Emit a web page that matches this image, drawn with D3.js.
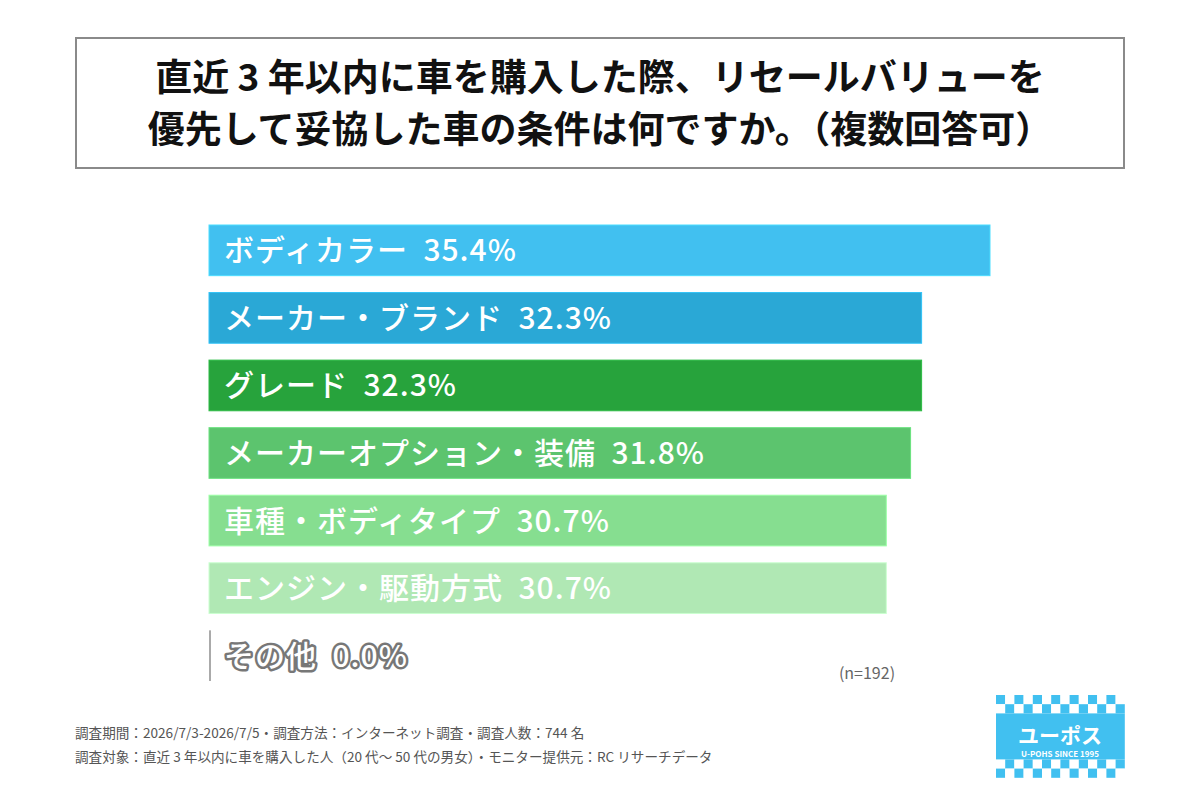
<!DOCTYPE html>
<html>
<head>
<meta charset="utf-8">
<script src="https://cdn.jsdelivr.net/npm/d3@7"></script>
<style>
  body { margin: 0; background: #fff; }
  svg { display: block; font-family: "Noto Sans CJK JP", "Noto Sans", sans-serif; }
  text { white-space: pre; }
</style>
</head>
<body>
<svg id="chart"></svg>
<script>
const categories = ['ボディカラー', 'メーカー・ブランド', 'グレード', 'メーカーオプション・装備', '車種・ボディタイプ', 'エンジン・駆動方式', 'その他']
const values = [35.4, 32.3, 32.3, 31.8, 30.7, 30.7, 0.0]
const barColors = ['#41c0f0', '#2aa8d6', '#27a33c', '#5cc46e', '#86de90', '#b0e8b4', '#aaaaaa']
const titleLines = ['直近 3 年以内に車を購入した際、リセールバリューを', '優先して妥協した車の条件は何ですか。（複数回答可）']
const notes = [
    '調査期間：2026/7/3-2026/7/5・調査方法：インターネット調査・調査人数：744 名',
    '調査対象：直近 3 年以内に車を購入した人（20 代～ 50 代の男女）・モニター提供元：RC リサーチデータ'
]
const sampleNote = '(n=192)'

let width = 1200
let height = 800
let svg = d3.select('#chart')
    .attr('width', width)
    .attr('height', height)

// Title box
svg.append('rect')
    .attr('x', 76).attr('y', 38)
    .attr('width', 1048).attr('height', 130)
    .attr('fill', '#fff')
    .attr('stroke', '#8a8a8a')
    .attr('stroke-width', 2)

svg.selectAll('.title')
    .data(titleLines)
    .enter()
    .append('text')
    .attr('class', 'title')
    .attr('x', 600)
    .attr('y', (d, i) => 91 + i * 52)
    .attr('text-anchor', 'middle')
    .attr('font-size', 37)
    .attr('font-weight', 700)
    .attr('fill', '#111')
    .text(d => d)

// Scales
let xScale = d3.scaleLinear()
    .domain([0, 35.4])
    .range([209, 990])

let yScale = d3.scaleBand()
    .domain(categories)
    .range([225, 681])
    .paddingInner(0.25)
    .paddingOuter(0)

// Bars
let bars = svg.selectAll('.bar')
    .data(categories)
    .enter()
    .append('g')
    .attr('class', 'bar')

bars.append('rect')
    .attr('x', xScale(0))
    .attr('y', d => yScale(d))
    .attr('width', (d, i) => Math.max(2, xScale(values[i]) - xScale(0)))
    .attr('height', yScale.bandwidth())
    .attr('fill', (d, i) => barColors[i])
    .attr('stroke', (d, i) => values[i] > 0 ? d3.color(barColors[i]).brighter(0.4) : 'none')
    .attr('stroke-width', 1)

bars.append('text')
    .attr('x', xScale(0) + 15)
    .attr('y', d => yScale(d) + yScale.bandwidth() / 2 + 11)
    .attr('font-size', 30)
    .attr('font-weight', 500)
    .attr('letter-spacing', 1)
    .attr('fill', '#fff')
    .attr('stroke', (d, i) => values[i] > 0 ? 'none' : '#777')
    .attr('stroke-width', 5)
    .attr('stroke-linejoin', 'round')
    .attr('paint-order', 'stroke')
    .text((d, i) => d + '  ' + values[i].toFixed(1) + '%')

// n note
svg.append('text')
    .attr('x', 867)
    .attr('y', 679)
    .attr('text-anchor', 'middle')
    .attr('font-size', 16)
    .attr('fill', '#666')
    .text(sampleNote)

// Footnotes
svg.selectAll('.note')
    .data(notes)
    .enter()
    .append('text')
    .attr('class', 'note')
    .attr('x', 75)
    .attr('y', (d, i) => 738 + i * 24)
    .attr('font-size', 13.6)
    .attr('fill', '#555')
    .text(d => d)

// Logo
let logo = svg.append('g').attr('transform', 'translate(996,695)')
let cell = 9.2
let cols = d3.range(14)
let rows = [0, 1, 7, 8]
rows.forEach(r => {
    logo.selectAll('.c' + r)
        .data(cols)
        .enter()
        .append('rect')
        .attr('x', c => c * cell)
        .attr('y', r * cell)
        .attr('width', cell)
        .attr('height', cell)
        .attr('fill', c => (c + r) % 2 === 0 ? '#41c0f0' : '#fff')
})
logo.append('rect')
    .attr('x', 0).attr('y', 2 * cell)
    .attr('width', 14 * cell).attr('height', 5 * cell)
    .attr('fill', '#41c0f0')
logo.append('text')
    .attr('x', 64).attr('y', 48)
    .attr('text-anchor', 'middle')
    .attr('font-size', 21)
    .attr('font-weight', 700)
    .attr('fill', '#fff')
    .text('ユーポス')
logo.append('text')
    .attr('x', 64).attr('y', 62)
    .attr('text-anchor', 'middle')
    .attr('font-size', 8)
    .attr('font-weight', 700)
    .attr('fill', '#fff')
    .text('U-POHS SINCE 1995')
</script>
</body>
</html>
